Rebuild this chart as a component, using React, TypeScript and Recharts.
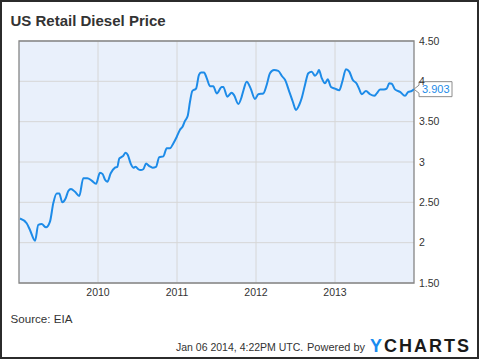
import { LineChart, Line, XAxis, YAxis, CartesianGrid, ReferenceArea, ReferenceDot } from 'recharts'

// decimal years, with the weekly price at that point
const YEARS = [
  2009.013, 2009.097, 2009.139, 2009.203, 2009.244, 2009.287, 2009.342, 2009.392, 2009.434, 2009.477,
  2009.51, 2009.548, 2009.591, 2009.624, 2009.658, 2009.709, 2009.763, 2009.814, 2009.865, 2009.92,
  2009.975, 2010.025, 2010.059, 2010.089, 2010.118, 2010.161, 2010.215, 2010.244, 2010.27, 2010.313,
  2010.351, 2010.376, 2010.414, 2010.447, 2010.477, 2010.51, 2010.541, 2010.573, 2010.608, 2010.649,
  2010.692, 2010.734, 2010.776, 2010.827, 2010.87, 2010.911, 2010.953, 2010.996, 2011.038, 2011.072,
  2011.101, 2011.135, 2011.165, 2011.194, 2011.241, 2011.278, 2011.304, 2011.342, 2011.376, 2011.418,
  2011.459, 2011.503, 2011.566, 2011.586, 2011.637, 2011.692, 2011.722, 2011.776, 2011.819, 2011.839,
  2011.882, 2011.933, 2011.987, 2012.029, 2012.092, 2012.135, 2012.177, 2012.228, 2012.282, 2012.333,
  2012.367, 2012.422, 2012.465, 2012.506, 2012.548, 2012.578, 2012.62, 2012.662, 2012.705, 2012.747,
  2012.776, 2012.797, 2012.832, 2012.873, 2012.908, 2012.949, 2013.0, 2013.054, 2013.092, 2013.139,
  2013.181, 2013.224, 2013.275, 2013.308, 2013.338, 2013.392, 2013.443, 2013.497, 2013.528, 2013.57,
  2013.62, 2013.654, 2013.687, 2013.718, 2013.759, 2013.823, 2013.886, 2013.928, 2013.971, 2014.0,
]

const PRICES = [
  2.3, 2.24, 2.157, 2.025, 2.22, 2.23, 2.19, 2.26, 2.49, 2.61,
  2.61, 2.5, 2.55, 2.64, 2.665, 2.63, 2.58, 2.8, 2.8, 2.77,
  2.73, 2.867, 2.85, 2.78, 2.756, 2.86, 2.93, 2.94, 3.045, 3.07,
  3.115, 3.09, 2.98, 2.93, 2.94, 2.91, 2.9, 2.91, 2.98, 2.95,
  2.93, 2.94, 3.06, 3.07, 3.17, 3.17, 3.23, 3.31, 3.4, 3.44,
  3.51, 3.57, 3.75, 3.88, 3.91, 4.08, 4.11, 4.11, 4.04, 3.94,
  3.94, 3.85, 3.93, 3.93, 3.81, 3.86, 3.83, 3.72, 3.81, 3.88,
  3.995, 3.91, 3.78, 3.84, 3.85, 3.955, 4.1, 4.14, 4.13, 4.06,
  4.02, 3.87, 3.75, 3.645, 3.71, 3.79, 3.955, 4.1, 4.12, 4.07,
  4.1, 4.14, 4.04, 3.975, 4.025, 3.93, 3.91, 3.89, 3.995, 4.15,
  4.12, 4.02, 3.97, 3.9, 3.84, 3.88, 3.84, 3.82, 3.85, 3.9,
  3.9, 3.91, 3.975, 3.97, 3.9, 3.87, 3.82, 3.87, 3.88, 3.903,
]

const X_TICKS = [2010, 2011, 2012, 2013]
const Y_TICKS = [1.5, 2, 2.5, 3, 3.5, 4, 4.5]
const LAST_PRICE = '3.903'

const LINE_COLOR = '#1d8be8'

const data = YEARS.map((t, i) => ({ t, price: PRICES[i] }))
const last = data[data.length - 1]

const fmtY = (v: number) => (Number.isInteger(v) ? String(v) : v.toFixed(2))

function PriceFlag(props: any) {
  const { cx, cy } = props
  if (cx == null || cy == null) return null
  const x0 = cx + 5
  const x1 = cx + 38
  const d = `M${cx},${cy} L${x0},${cy - 4} L${x0},${cy - 7.5} L${x1},${cy - 7.5} L${x1},${cy + 7.5} L${x0},${cy + 7.5} L${x0},${cy + 4} Z`
  return (
    <g>
      <path d={d} fill="#fff" stroke="#8c8c8c" strokeWidth={1} />
      <text x={cx + 8} y={cy + 4} fontSize={11} fill={LINE_COLOR} fontFamily="Liberation Sans, Arial, sans-serif">
        {LAST_PRICE}
      </text>
    </g>
  )
}

export default function App() {
  const font = 'Liberation Sans, Arial, sans-serif'
  return (
    <div
      style={{
        position: 'absolute',
        left: 0,
        top: 0,
        width: 480,
        height: 360,
        background: '#fff',
        fontFamily: font,
      }}
    >
      <LineChart width={480} height={360} data={data} margin={{ top: 41, right: 16, bottom: 57, left: 19 }}>
        <CartesianGrid fill="#e9f0fb" stroke="#d6d6d6" horizontalValues={Y_TICKS} verticalValues={X_TICKS} />
        <XAxis
          dataKey="t"
          type="number"
          domain={[2009, 2014]}
          ticks={X_TICKS}
          allowDataOverflow
          axisLine={false}
          tickLine={false}
          tickSize={4}
          tickMargin={2}
          height={20}
          tick={{ fill: '#333', fontSize: 10.5, fontFamily: font }}
        />
        <YAxis
          orientation="right"
          type="number"
          domain={[1.5, 4.5]}
          ticks={Y_TICKS}
          tickFormatter={fmtY}
          axisLine={false}
          tickLine={false}
          tickSize={3}
          tickMargin={2}
          width={50}
          tick={{ fill: '#333', fontSize: 10.5, fontFamily: font, textAnchor: 'start' }}
        />
        <ReferenceArea x1={2009} x2={2014} y1={1.5} y2={4.5} fill="none" stroke="#858585" strokeWidth={1.3} />
        <Line
          type="monotone"
          dataKey="price"
          stroke={LINE_COLOR}
          strokeWidth={2}
          dot={false}
          isAnimationActive={false}
        />
        <ReferenceDot x={last.t} y={last.price} r={3} ifOverflow="visible" shape={PriceFlag} />
      </LineChart>
      <svg
        width={480}
        height={360}
        style={{ position: 'absolute', left: 0, top: 0, pointerEvents: 'none' }}
      >
        <rect x={1} y={1} width={477} height={357} fill="none" stroke="#2b2b2b" strokeWidth={2} />
        <text x={10.5} y={26} fontSize={15} fontWeight="bold" fill="#333" fontFamily={font}>
          US Retail Diesel Price
        </text>
        <text x={10.5} y={323} fontSize={11.6} fill="#333" fontFamily={font}>
          Source: EIA
        </text>
        <text x={176} y={351} fontSize={10.5} fill="#333" fontFamily={font}>
          Jan 06 2014, 4:22PM UTC.
        </text>
        <text x={307} y={351} fontSize={11} fill="#333" fontFamily={font}>
          Powered by
        </text>
        <text x={370} y={352} fontSize={18} fontWeight={900} letterSpacing={2} fill="#1a1a1a" fontFamily={font}>
          <tspan fill="#1a8cf0">Y</tspan>CHARTS
        </text>
      </svg>
    </div>
  )
}
